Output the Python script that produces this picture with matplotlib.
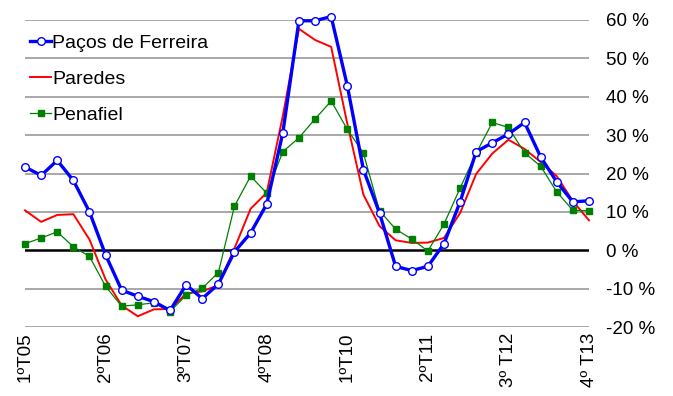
import numpy as np
import matplotlib
matplotlib.use('Agg')
import matplotlib.pyplot as plt

plt.rcParams['font.family'] = ['Liberation Sans', 'DejaVu Sans']

# Quarterly year-on-year change (%), 1st quarter 2005 to 4th quarter 2013
tick_labels = ['1ºT05', '2ºT06', '3ºT07', '4ºT08', '1ºT10', '2ºT11', '3º T12', '4º T13']

pacos = [21.7, 19.5, 23.4, 18.2, 10.0, -1.2, -10.4, -12.0, -13.4, -15.7,
         -9.0, -12.6, -8.8, -0.4, 4.5, 12.0, 30.6, 59.8, 59.8, 60.9,
         42.9, 21.0, 9.7, -4.2, -5.3, -4.2, 1.7, 12.6, 25.7, 28.0,
         30.3, 33.3, 24.3, 17.8, 12.6, 12.9]
paredes = [10.4, 7.4, 9.2, 9.4, 2.8, -7.6, -14.4, -17.2, -15.4, -15.3,
           -11.3, -10.7, -9.1, 0.5, 10.8, 15.0, 35.0, 57.7, 54.8, 53.0,
           33.0, 14.5, 6.3, 2.6, 1.9, 2.0, 3.2, 9.7, 19.9, 25.2,
           28.8, 26.4, 23.0, 19.3, 12.8, 7.8]
penafiel = [1.7, 3.2, 4.8, 0.9, -1.6, -9.4, -14.6, -14.2, -13.7, -16.0,
            -11.7, -9.9, -5.8, 11.5, 19.3, 14.9, 25.7, 29.3, 34.2, 38.9,
            31.5, 25.3, 10.3, 5.5, 2.9, -0.2, 6.8, 16.2, 25.3, 33.3,
            32.0, 25.4, 21.9, 15.2, 10.4, 10.3]

x = np.arange(len(pacos))

fig = plt.figure(figsize=(6.73, 3.96), dpi=100)
ax = fig.add_axes([25 / 673, 1 - 327 / 396, 564 / 673, 307 / 396])

for v in range(-20, 61, 10):
    if v != 0:
        ax.axhline(v, color='#a8a8a8', lw=1.4, zorder=0)
ax.axhline(0, color='black', lw=1.8, zorder=1)

ax.plot(x, pacos, color='#0000ff', lw=2.4, marker='o', ms=5.5, mfc='white',
        mec='#0000ff', mew=1.0, label='Paços de Ferreira', zorder=3,
        clip_on=False)
ax.plot(x, paredes, color='#ff0000', lw=1.4, label='Paredes', zorder=2,
        clip_on=False)
ax.plot(x, penafiel, color='#008000', lw=0.9, marker='s', ms=4.3,
        mfc='#008000', mec='#008000', label='Penafiel', zorder=2.5,
        clip_on=False)

ax.set_xlim(0, 35)
ax.set_ylim(-20, 60)
for s in ax.spines.values():
    s.set_visible(False)

ax.yaxis.tick_right()
ax.set_yticks(range(-20, 61, 10))
ax.set_yticklabels([f'{v} %' for v in range(-20, 61, 10)])
ax.set_xticks(x[::5])
ax.set_xticklabels(tick_labels, rotation=90, va='top')
ax.tick_params(axis='both', length=0, labelsize=13.5)
ax.tick_params(axis='y', pad=12)
ax.tick_params(axis='x', pad=4)

ax.legend(loc='upper left', bbox_to_anchor=(-0.005, 0.98), frameon=False,
          fontsize=14, handlelength=1.1, handletextpad=0.05,
          labelspacing=0.95, borderaxespad=0)

fig.savefig('out.png', dpi=100)
